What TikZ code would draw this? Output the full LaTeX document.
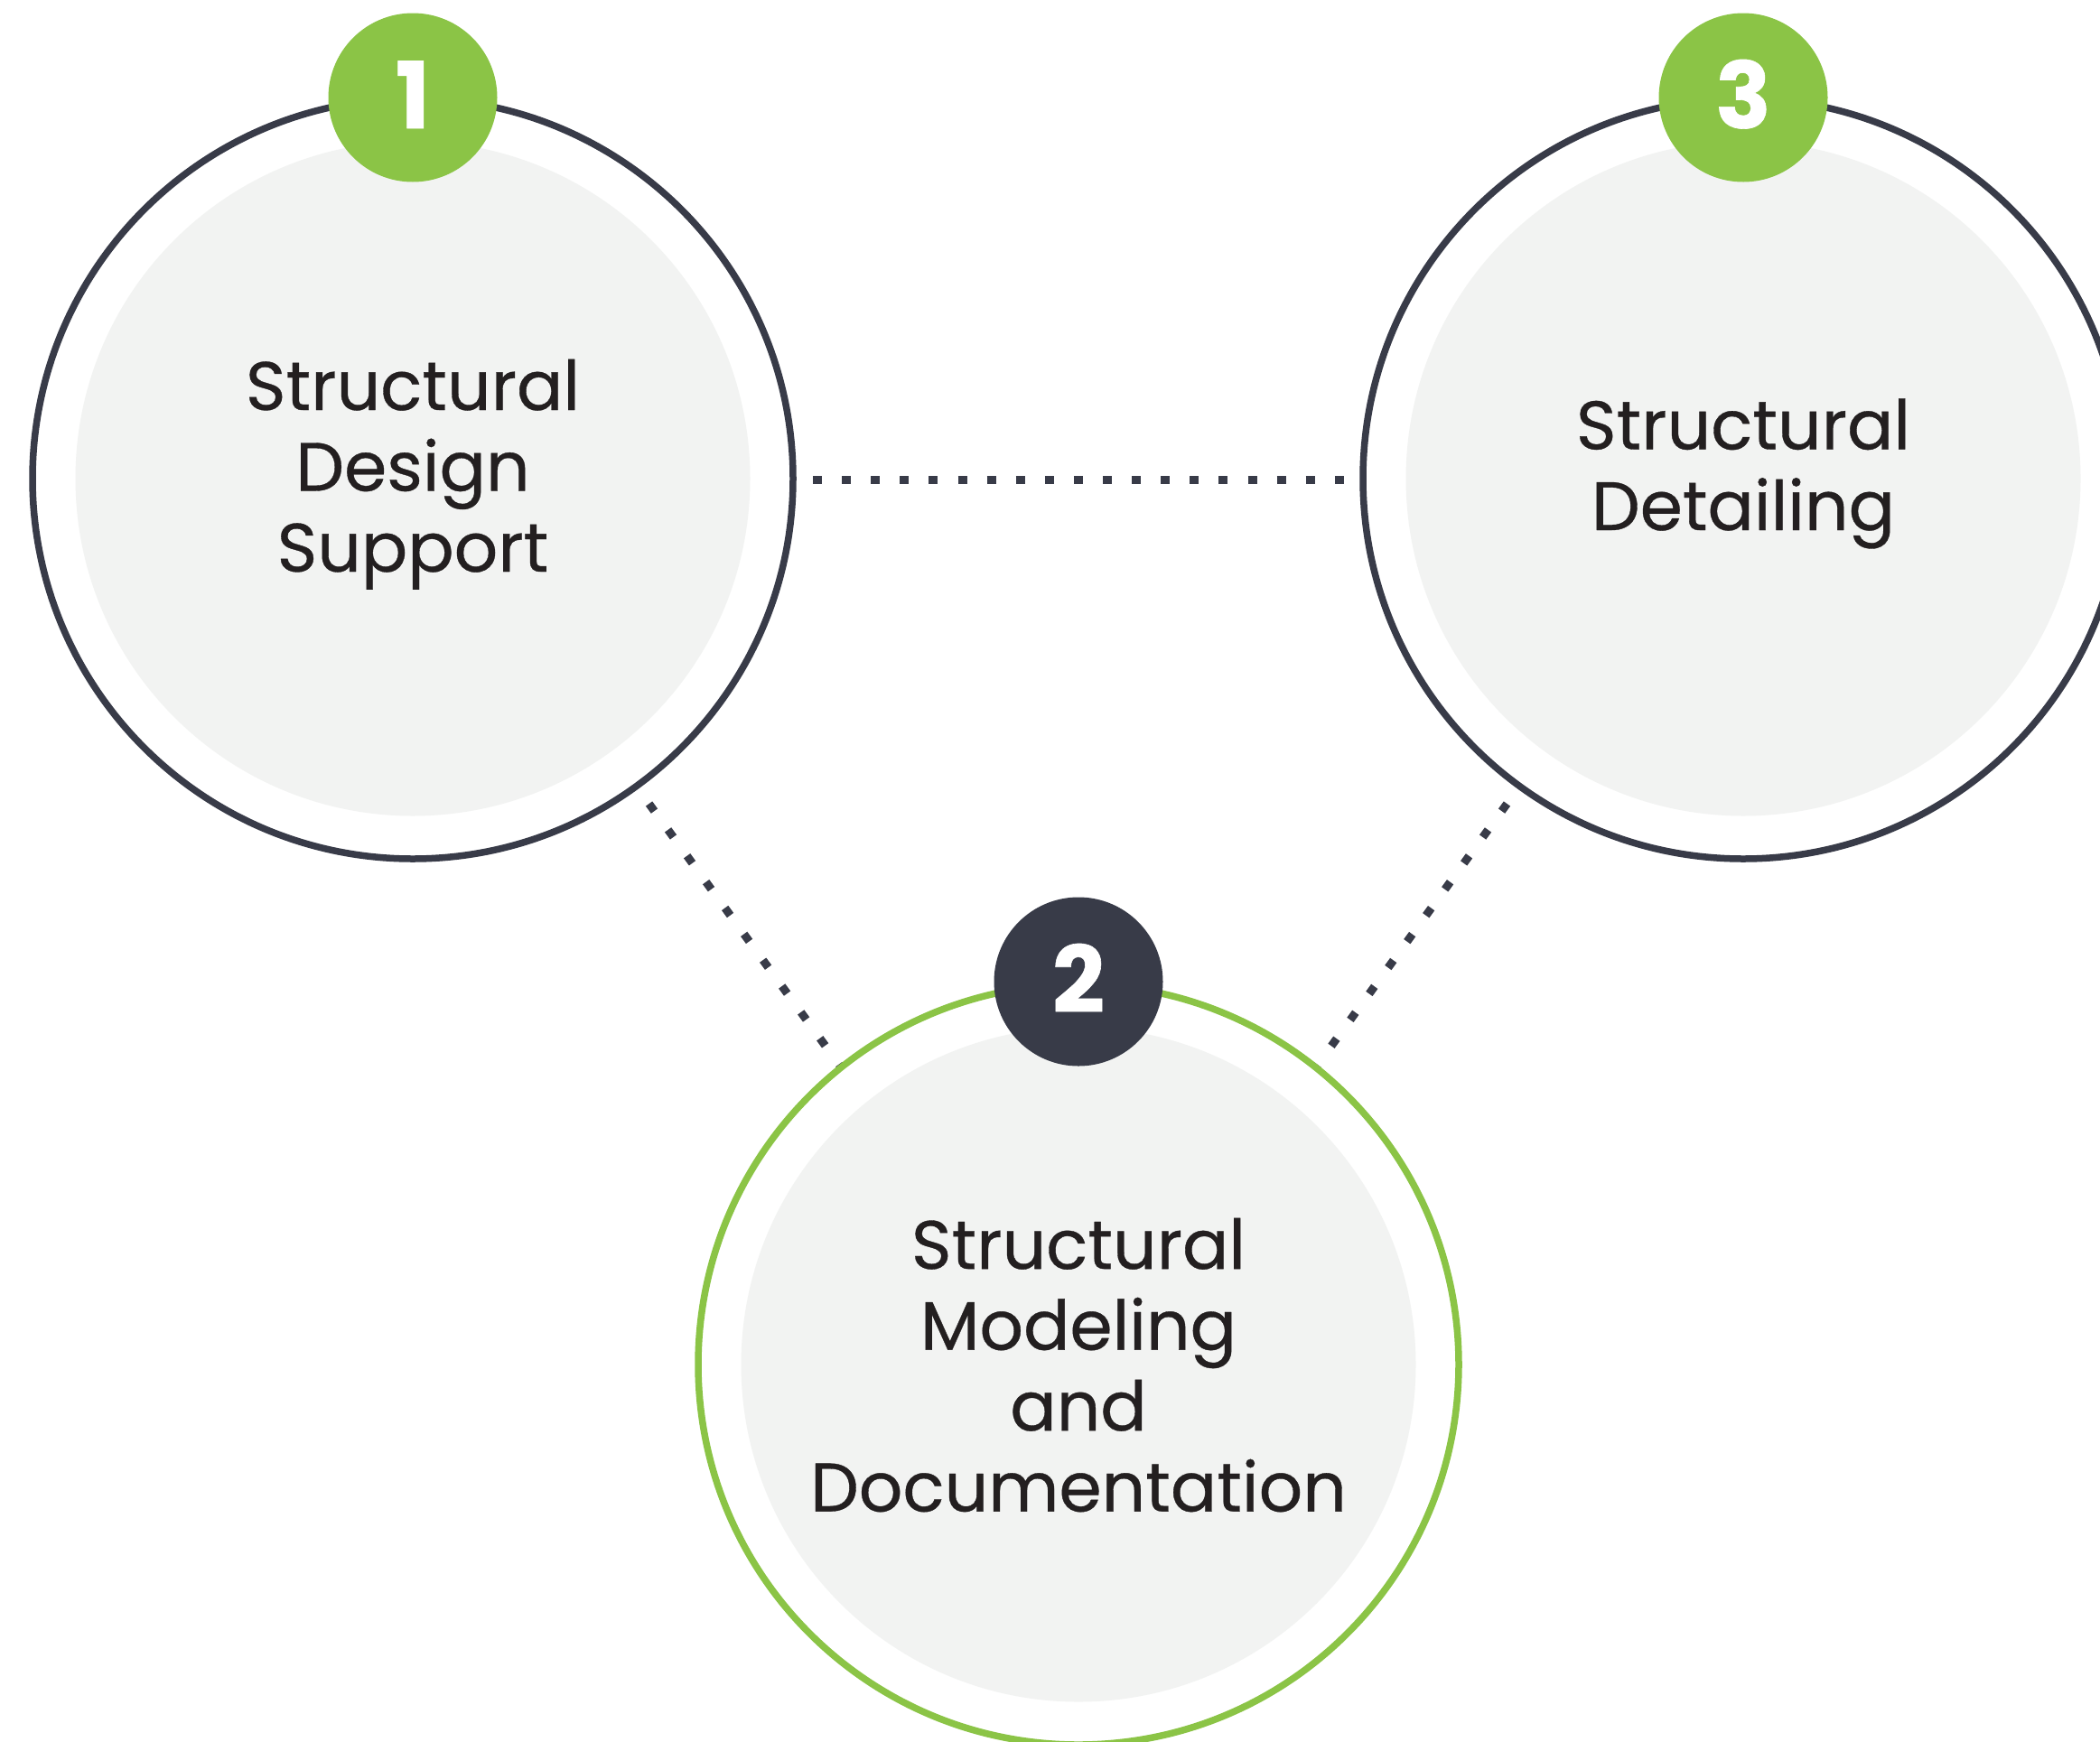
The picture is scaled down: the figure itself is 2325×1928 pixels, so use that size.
\documentclass[tikz,border=0pt]{standalone}
\usepackage{fontspec}
\setmainfont{Poppins}
\newfontfamily\labelfont{Poppins}[FakeBold=0.45]
\newfontfamily\numfont{Poppins}[FakeBold=0.6]
\usetikzlibrary{calc}
\definecolor{ringdark}{HTML}{383B48}
\definecolor{ringgreen}{HTML}{8BC446}
\definecolor{innerfill}{HTML}{F2F3F2}
\definecolor{txtdark}{HTML}{231F20}
\begin{document}
\begin{tikzpicture}[x=1pt,y=-1pt,
  ring/.style={circle, draw, line width=7.5pt, fill=white, minimum size=842pt, inner sep=0pt},
  innercircle/.style={circle, fill=innerfill, minimum size=747pt, inner sep=0pt},
  badge/.style={circle, minimum size=187pt, inner sep=0pt},
  badgenum/.style={anchor=base, text=white, inner sep=0pt, font=\numfont\fontsize{102}{102}\selectfont\bfseries},
  label/.style={anchor=base, align=center, inner sep=0pt, text=txtdark, font=\labelfont\fontsize{76}{89.5}\selectfont},
  dotline/.style={ringdark, line width=9pt},
]
\useasboundingbox (0,0) rectangle (2325,1928);
\fill[white] (0,0) rectangle (2325,1928);
% centres
\coordinate (p1) at (457,530);
\coordinate (p2) at (1194,1511);
\coordinate (p3) at (1930,530);
% dotted connectors
\coordinate (h1) at (900,531);
\coordinate (h3) at (1489,531);
\draw[dotline, dash pattern=on 10pt off 22.1pt] (h1) -- (h3);
\coordinate (d1s) at ($(p1)+(54:445)$);
\coordinate (d1e) at ($(p2)+(231.4:423)$);
\draw[dotline, dash pattern=on 10pt off 25.7pt] (d1s) -- (d1e);
\coordinate (d3s) at ($(p3)+(126:445)$);
\coordinate (d3e) at ($(p2)+(-51.4:423)$);
\draw[dotline, dash pattern=on 10pt off 25.7pt] (d3s) -- (d3e);
% circles
\node[ring, draw=ringdark] (c1) at (p1) {};
\node[ring, draw=ringdark] (c3) at (p3) {};
\node[ring, draw=ringgreen] (c2) at (p2) {};
\node[innercircle] (i1) at (p1) {};
\node[innercircle] (i3) at (p3) {};
\node[innercircle] (i2) at (p2) {};
% badges
\node[badge, fill=ringgreen] (b1) at (457,108) {};
\node[badge, fill=ringgreen] (b3) at (1930,108) {};
\node[badge, fill=ringdark] (b2) at (1194,1087) {};
\node[badgenum] (n1) at ($(b1.center)+(0,34)$) {1};
\node[badgenum] (n3) at ($(b3.center)+(0,34)$) {3};
\node[badgenum] (n2) at ($(b2.center)+(0,34)$) {2};
% labels (anchor base = baseline of the last line)
\node[label] (t1) at (457,633) {Structural\\Design\\Support};
\node[label] (t3) at (1930,587) {Structural\\Detailing};
\node[label] (t2) at (1194,1673.6) {Structural\\Modeling\\and\\Documentation};
\end{tikzpicture}
\end{document}
